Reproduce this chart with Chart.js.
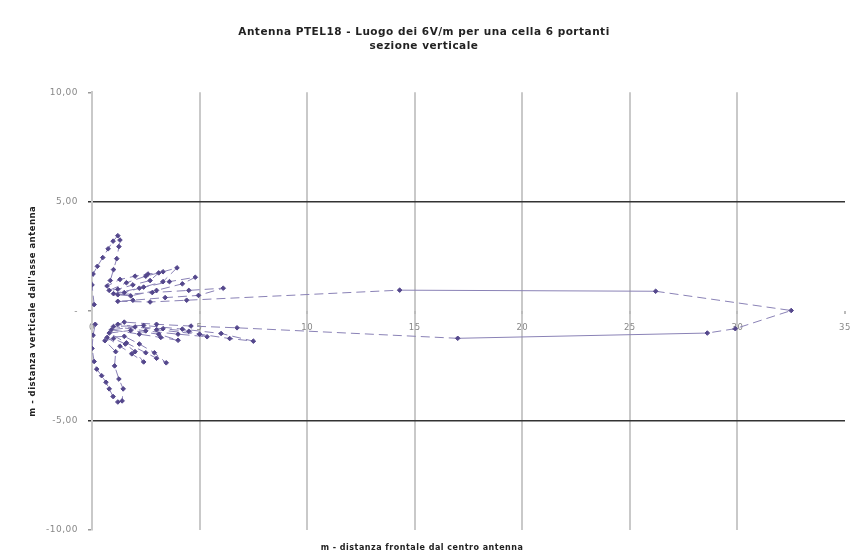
<!DOCTYPE html>
<html><head><meta charset="utf-8">
<script src="https://cdn.jsdelivr.net/npm/chart.js@4"></script>
<style>html,body{margin:0;padding:0;background:#fff}</style>
</head><body>
<canvas id="c" width="850" height="557"></canvas>
<script>
// ---- texts ----
const titleLines = ['Antenna PTEL18 - Luogo dei 6V/m per una cella 6 portanti', 'sezione verticale'];
const xAxisTitle = 'm - distanza frontale dal centro antenna';
const yAxisTitle = "m - distanza verticale dall'asse antenna";
// ---- ticks ----
const xTicks = [0, 5, 10, 15, 20, 25, 30, 35];
const yTicks = [-10, -5, 0, 5, 10];
// ---- locus of 6 V/m (ordered path, metres) ----
const upperLoopX = [0.10, 0.00, 0.05, 0.25, 0.50, 0.75, 0.98, 1.20, 1.30, 1.25, 1.15, 1.00, 0.85];
const upperLoopY = [0.30, 1.20, 1.70, 2.05, 2.45, 2.85, 3.20, 3.45, 3.25, 2.95, 2.40, 1.90, 1.40];
const upperLobesX = [0.70, 1.30, 2.00, 2.60, 3.10, 2.70, 1.90, 1.20, 0.80, 1.60, 2.50, 3.30, 3.95, 3.30, 2.40, 1.50, 1.00, 2.20, 3.60, 4.80, 4.20, 3.00, 1.80, 1.20, 2.80, 4.50, 6.10, 4.95, 3.40, 1.90];
const upperLobesY = [1.15, 1.45, 1.60, 1.70, 1.75, 1.40, 1.20, 1.00, 0.95, 1.30, 1.60, 1.80, 1.98, 1.35, 1.10, 0.85, 0.80, 1.05, 1.35, 1.55, 1.25, 0.95, 0.70, 0.75, 0.85, 0.95, 1.05, 0.72, 0.62, 0.50];
const mainLobeX = [1.20, 2.70, 4.40, 14.30, 26.20, 32.50, 29.90, 28.60, 17.00, 6.74, 4.60, 3.00, 1.50];
const mainLobeY = [0.45, 0.42, 0.50, 0.96, 0.91, 0.03, -0.80, -1.00, -1.24, -0.76, -0.68, -0.60, -0.50];
const lowerLobesX = [1.20, 3.00, 5.00, 6.40, 7.50, 6.00, 4.20, 2.40, 1.00, 2.50, 4.00, 5.35, 4.50, 3.30, 2.00, 0.90, 2.20, 3.20, 4.00, 3.10, 1.80, 0.80, 1.60, 2.50, 3.00, 3.45, 2.90, 2.20, 1.50, 0.70, 1.30, 1.85, 2.40, 2.00, 1.55, 1.00];
const lowerLobesY = [-0.60, -0.85, -1.05, -1.25, -1.37, -1.02, -0.82, -0.65, -0.70, -0.90, -1.05, -1.17, -0.92, -0.80, -0.72, -0.85, -1.05, -1.20, -1.33, -1.05, -0.88, -1.00, -1.45, -1.90, -2.15, -2.36, -1.90, -1.50, -1.15, -1.20, -1.60, -1.95, -2.32, -1.85, -1.50, -1.25];
const lowerLoopX = [0.60, 1.10, 1.05, 1.25, 1.45, 1.40, 1.20, 0.98, 0.80, 0.65, 0.45, 0.22, 0.10, 0.00, 0.05, 0.15];
const lowerLoopY = [-1.35, -1.85, -2.50, -3.10, -3.55, -4.10, -4.15, -3.90, -3.55, -3.25, -2.95, -2.65, -2.30, -1.70, -1.10, -0.60];

const xs = [].concat(upperLoopX, upperLobesX, mainLobeX, lowerLobesX, lowerLoopX);
const ys = [].concat(upperLoopY, upperLobesY, mainLobeY, lowerLobesY, lowerLoopY);
const points = xs.map((x, i) => ({x: x, y: ys[i]}));

const FONT = "'DejaVu Sans', 'Liberation Sans', Arial, sans-serif";

const spacingPlugin = {
  id: 'spacing',
  beforeLayout(chart) { chart.ctx.letterSpacing = '0.5px'; },
  beforeDraw(chart) { chart.ctx.letterSpacing = '0.5px'; }
};

const xTitlePlugin = {
  id: 'xTitle',
  afterDraw(chart) {
    const ctx = chart.ctx;
    ctx.save();
    ctx.font = 'bold 8px ' + FONT;
    ctx.fillStyle = '#222';
    ctx.textAlign = 'center';
    ctx.textBaseline = 'middle';
    ctx.fillText(xAxisTitle, chart.width / 2 - 3, chart.chartArea.bottom + 18);
    ctx.restore();
  }
};

new Chart(document.getElementById('c'), {
  type: 'scatter',
  data: {
    datasets: [{
      data: points,
      showLine: true,
      borderColor: '#8a82b6',
      borderWidth: 1,
      pointStyle: 'rectRot',
      pointRadius: 2.3,
      pointBackgroundColor: '#54478c',
      pointBorderColor: '#54478c',
      pointBorderWidth: 1,
      segment: {
        borderDash: c => (Math.hypot(c.p1.x - c.p0.x, c.p1.y - c.p0.y) > 240 ? [] : [9, 5])
      }
    }]
  },
  options: {
    responsive: false,
    animation: false,
    layout: {padding: {top: 0, right: 2, bottom: 27, left: 0}},
    plugins: {
      legend: {display: false},
      tooltip: {enabled: false},
      title: {
        display: true,
        text: titleLines,
        color: '#222',
        font: {family: FONT, size: 10.5, weight: 'bold', lineHeight: 1.35},
        padding: {top: 25, bottom: 39}
      }
    },
    scales: {
      x: {
        type: 'linear',
        position: {y: 0},
        min: 0, max: 35,
        afterBuildTicks: s => { s.ticks = xTicks.map(v => ({value: v})); },
        afterFit: s => { s.paddingLeft = 0; s.paddingRight = 0; },
        ticks: {
          color: '#888',
          font: {family: FONT, size: 8.5},
          padding: 9,
          maxRotation: 0,
          autoSkip: false,
          callback: v => String(v)
        },
        grid: {
          color: c => (c.tick && (c.tick.value === 0 || c.tick.value === 35) ? 'rgba(0,0,0,0)' : '#c9c9c9'),
          lineWidth: 2,
          drawTicks: true,
          tickLength: 3,
          tickColor: '#bbb'
        },
        border: {display: false}
      },
      y: {
        type: 'linear',
        min: -10, max: 10,
        afterBuildTicks: s => { s.ticks = yTicks.map(v => ({value: v})); },
        afterFit: s => { s.width = 92; },
        ticks: {
          color: '#888',
          font: {family: FONT, size: 9},
          padding: 10,
          callback: v => (v === 0 ? '-' : v.toFixed(2).replace('.', ','))
        },
        grid: {
          color: c => (c.tick && Math.abs(c.tick.value) === 5 ? '#333' : 'rgba(0,0,0,0)'),
          lineWidth: 1.5,
          drawTicks: true,
          tickLength: 4,
          tickColor: c => (c.tick && Math.abs(c.tick.value) === 5 ? '#333' : '#999')
        },
        border: {display: true, color: '#c9c9c9', width: 2},
        title: {
          display: true,
          text: yAxisTitle,
          color: '#222',
          font: {family: FONT, size: 8.5, weight: 'bold'},
          padding: {top: 28, bottom: 0}
        }
      }
    }
  },
  plugins: [spacingPlugin, xTitlePlugin]
});
</script>
</body></html>
